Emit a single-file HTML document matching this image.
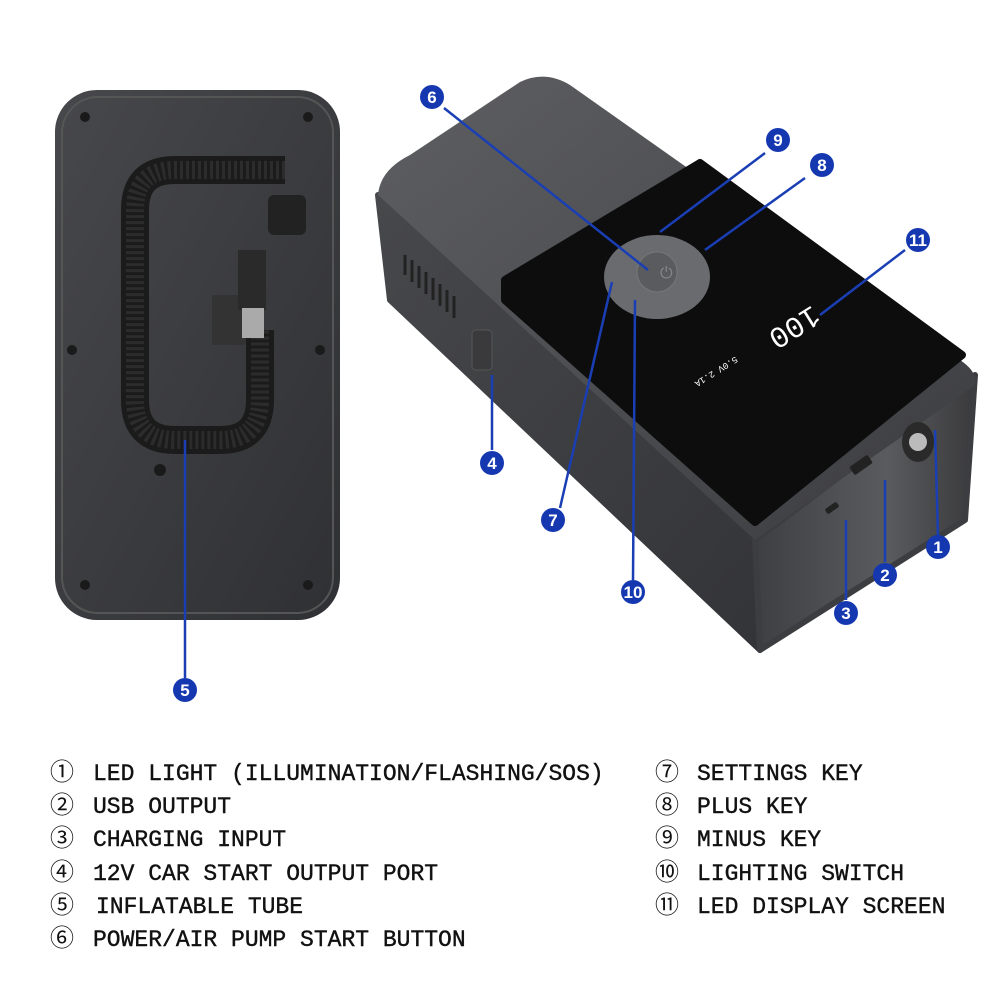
<!DOCTYPE html>
<html><head><meta charset="utf-8"><style>
html,body{margin:0;padding:0;background:#fff}
svg{display:block}
.lg{font-family:"Liberation Mono",monospace;font-size:23px;fill:#111;stroke:#111;stroke-width:0.4}
.cn{font-family:"Liberation Sans","Noto Sans CJK SC",sans-serif;font-size:24px;fill:#111}
.mk circle{fill:#1538b0}
.mk text{font-family:"Liberation Sans",sans-serif;font-weight:bold;font-size:17px;fill:#fff;text-anchor:middle}
.ln{stroke:#1a3fb5;stroke-width:2.5}
</style></head><body>
<svg width="1000" height="1000" viewBox="0 0 1000 1000">
<defs>
<linearGradient id="lb" x1="0" y1="0" x2="1" y2="1"><stop offset="0" stop-color="#47484b"/><stop offset="1" stop-color="#2f3033"/></linearGradient>
<linearGradient id="tp" x1="0" y1="0" x2="1" y2="1"><stop offset="0" stop-color="#5e5f62"/><stop offset="1" stop-color="#3b3c3f"/></linearGradient>
<linearGradient id="fr" x1="0" y1="0" x2="1" y2="0"><stop offset="0" stop-color="#3e3f42"/><stop offset="0.6" stop-color="#5a5b5e"/><stop offset="1" stop-color="#3a3a3c"/></linearGradient>
<linearGradient id="sd" x1="0" y1="0" x2="1" y2="1"><stop offset="0" stop-color="#47484b"/><stop offset="1" stop-color="#333437"/></linearGradient>
</defs>
<!-- left device -->
<rect x="55" y="90" width="285" height="530" rx="42" fill="url(#lb)"/>
<rect x="62" y="97" width="271" height="516" rx="36" fill="none" stroke="#555" stroke-width="2"/>
<g fill="#1a1a1a"><circle cx="85" cy="117" r="5"/><circle cx="308" cy="117" r="5"/><circle cx="72" cy="350" r="5"/><circle cx="320" cy="350" r="5"/><circle cx="85" cy="585" r="5"/><circle cx="308" cy="585" r="5"/><circle cx="160" cy="470" r="6"/></g>
<rect x="212" y="295" width="45" height="50" fill="#333"/>
<path d="M285 170 L175 170 Q135 170 135 210 L135 400 Q135 440 175 440 L220 440 Q260 440 260 400 L260 330" fill="none" stroke="#1b1b1b" stroke-width="28"/>
<path d="M285 170 L175 170 Q135 170 135 210 L135 400 Q135 440 175 440 L220 440 Q260 440 260 400 L260 330" fill="none" stroke="#2c2c2c" stroke-width="18" stroke-dasharray="3 3"/>
<rect x="268" y="195" width="38" height="40" rx="6" fill="#222"/>
<rect x="238" y="250" width="28" height="60" fill="#2a2a2a"/>
<rect x="242" y="308" width="22" height="30" fill="#aaa"/>
<!-- right device -->
<polygon points="378,195 390,300 760,650 755,540" fill="url(#sd)" stroke="url(#sd)" stroke-width="6" stroke-linejoin="round"/>
<polygon points="755,540 975,375 965,520 760,650" fill="url(#fr)" stroke="#3c3d40" stroke-width="6" stroke-linejoin="round"/>
<path d="M378 195 Q380 170 410 155 L520 82 Q545 70 570 85 L960 360 Q978 372 975,385 L755 540 Z" fill="url(#tp)"/>
<polygon points="505,280 700,163 962,355 755,522 505,300" fill="#0d0d0e" stroke="#0d0d0e" stroke-width="8" stroke-linejoin="round"/>
<g stroke="#222" stroke-width="3"><line x1="405" y1="255" x2="405" y2="275"/><line x1="412" y1="260" x2="412" y2="282"/><line x1="419" y1="266" x2="419" y2="288"/><line x1="426" y1="272" x2="426" y2="294"/><line x1="433" y1="278" x2="433" y2="300"/><line x1="440" y1="284" x2="440" y2="306"/><line x1="447" y1="290" x2="447" y2="312"/><line x1="454" y1="296" x2="454" y2="318"/></g>
<rect x="472" y="330" width="20" height="40" rx="4" fill="#3a3a3d" stroke="#555"/>
<ellipse cx="657" cy="277" rx="53" ry="42" fill="#6a6b6e"/>
<circle cx="657" cy="272" r="20" fill="#5a5b5e" stroke="#777"/>
<text x="660" y="278" font-family="Liberation Sans" font-size="16" fill="#888">⏻</text>
<text x="742" y="325" font-family="Liberation Mono" font-size="30" fill="#fff" transform="rotate(148 780 325)" >100</text>
<text x="705" y="355" font-family="Liberation Mono" font-size="9" fill="#fff" transform="rotate(148 720 360)">5.0V 2.1A</text>
<rect x="850" y="460" width="22" height="10" rx="2" fill="#222" transform="rotate(-35 861 465)"/>
<rect x="825" y="505" width="14" height="6" rx="2" fill="#222" transform="rotate(-35 832 508)"/>
<ellipse cx="918" cy="442" rx="16" ry="20" fill="#2a2a2a"/><circle cx="918" cy="442" r="9" fill="#bbb"/>
<!-- leader lines -->
<g class="ln"><line x1="444" y1="108" x2="648" y2="270"/><line x1="765" y1="153" x2="660" y2="232"/><line x1="805" y1="178" x2="705" y2="250"/><line x1="905" y1="250" x2="820" y2="315"/><line x1="492" y1="450" x2="492" y2="375"/><line x1="560" y1="508" x2="612" y2="282"/><line x1="633" y1="580" x2="635" y2="300"/><line x1="938" y1="535" x2="935" y2="430"/><line x1="885" y1="562" x2="885" y2="480"/><line x1="846" y1="600" x2="846" y2="520"/><line x1="185" y1="678" x2="185" y2="440"/></g>
<g class="mk">
<circle cx="432" cy="97" r="12"/><text x="432" y="103">6</text>
<circle cx="778" cy="140" r="12"/><text x="778" y="146">9</text>
<circle cx="822" cy="165" r="12"/><text x="822" y="171">8</text>
<circle cx="918" cy="240" r="12"/><text x="918" y="246" font-size="14">11</text>
<circle cx="492" cy="463" r="12"/><text x="492" y="469">4</text>
<circle cx="553" cy="520" r="12"/><text x="553" y="526">7</text>
<circle cx="633" cy="592" r="12"/><text x="633" y="598" font-size="14">10</text>
<circle cx="938" cy="547" r="12"/><text x="938" y="553">1</text>
<circle cx="885" cy="575" r="12"/><text x="885" y="581">2</text>
<circle cx="846" cy="613" r="12"/><text x="846" y="619">3</text>
<circle cx="185" cy="690" r="12"/><text x="185" y="696">5</text>
</g>
<!-- legend -->
<g class="cn"><text x="50" y="780">①</text><text x="50" y="813">②</text><text x="50" y="846">③</text><text x="50" y="880">④</text><text x="50" y="913">⑤</text><text x="50" y="946">⑥</text>
<text x="655" y="780">⑦</text><text x="655" y="813">⑧</text><text x="655" y="846">⑨</text><text x="655" y="880">⑩</text><text x="655" y="913">⑪</text></g>
<g class="lg">
<text x="93" y="780">LED LIGHT (ILLUMINATION/FLASHING/SOS)</text>
<text x="93" y="813">USB OUTPUT</text>
<text x="93" y="846">CHARGING INPUT</text>
<text x="93" y="880">12V CAR START OUTPUT PORT</text>
<text x="96" y="913">INFLATABLE TUBE</text>
<text x="93" y="946">POWER/AIR PUMP START BUTTON</text>
<text x="697" y="780">SETTINGS KEY</text>
<text x="697" y="813">PLUS KEY</text>
<text x="697" y="846">MINUS KEY</text>
<text x="697" y="880">LIGHTING SWITCH</text>
<text x="697" y="913">LED DISPLAY SCREEN</text>
</g>
</svg>
</body></html>
